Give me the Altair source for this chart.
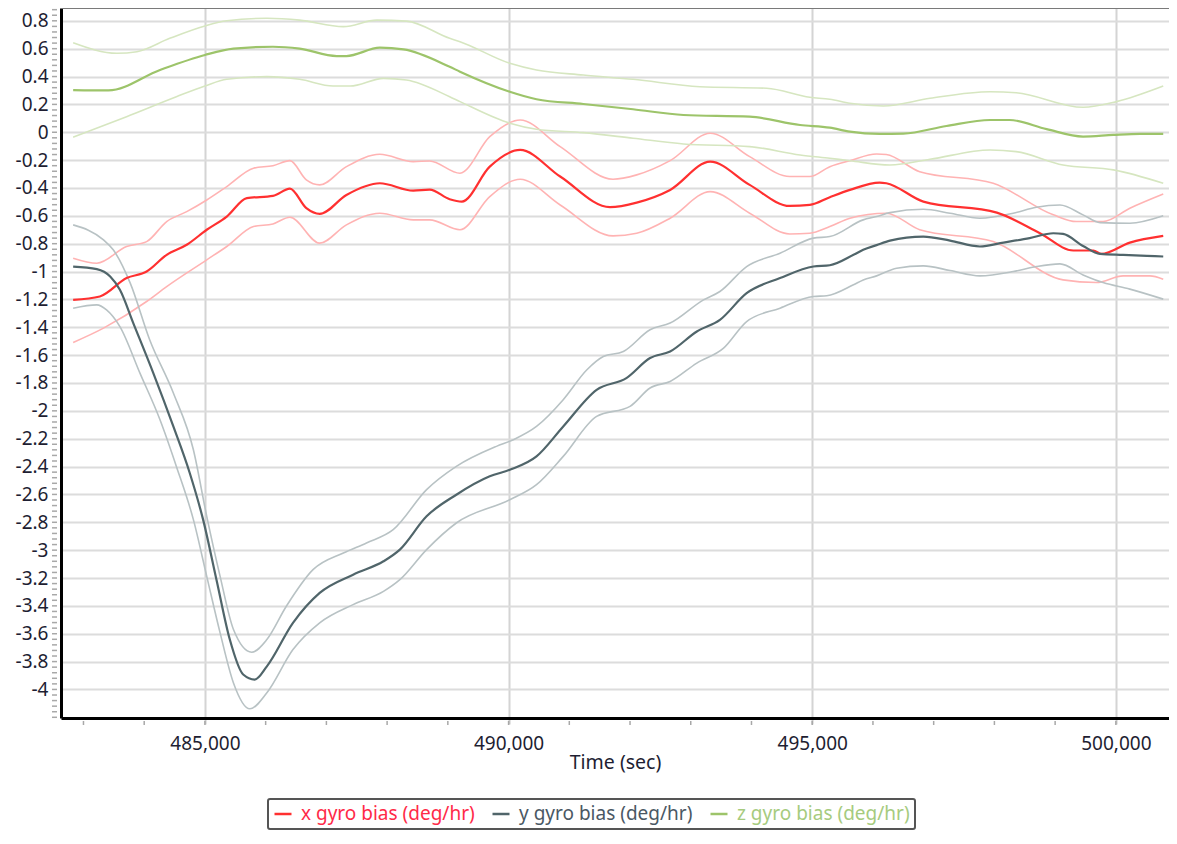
import altair as alt
import pandas as pd

# ---------------- data ----------------
X_MID_T = [482830, 483270, 483710, 484040, 484370, 484700, 485030, 485360, 485690, 486120, 486400, 486670, 486890, 487330, 487880, 488430, 488700, 489030, 489230, 489690, 490190, 490850, 491670, 492110, 492660, 493320, 493970, 494630, 494960, 495290, 495620, 496110, 496220, 496830, 498040, 498750, 499300, 499630, 499760, 500230, 500780]
X_MID_V = [-1.203, -1.179, -1.047, -1.0, -0.88, -0.808, -0.70, -0.605, -0.473, -0.457, -0.405, -0.545, -0.586, -0.45, -0.366, -0.419, -0.412, -0.481, -0.498, -0.247, -0.127, -0.318, -0.538, -0.505, -0.414, -0.211, -0.378, -0.529, -0.522, -0.466, -0.414, -0.361, -0.366, -0.498, -0.577, -0.725, -0.849, -0.849, -0.873, -0.792, -0.744]

X_UP_T = [482830, 483220, 483710, 484040, 484370, 484700, 485030, 485360, 485800, 486120, 486400, 486670, 486890, 487330, 487880, 488430, 488700, 489200, 489690, 490190, 490850, 491720, 492110, 492660, 493320, 493970, 494630, 494960, 495290, 495620, 496060, 496220, 496770, 497980, 498970, 499350, 499790, 500230, 500780]
X_UP_V = [-0.904, -0.94, -0.82, -0.785, -0.641, -0.57, -0.486, -0.39, -0.258, -0.24, -0.204, -0.342, -0.378, -0.247, -0.158, -0.211, -0.206, -0.294, -0.032, 0.088, -0.103, -0.337, -0.306, -0.204, -0.007, -0.175, -0.318, -0.318, -0.247, -0.204, -0.156, -0.16, -0.283, -0.366, -0.593, -0.641, -0.641, -0.545, -0.443]

X_LO_T = [482830, 483330, 484040, 484370, 485030, 485360, 485800, 486120, 486400, 486890, 487330, 487880, 488430, 488700, 489200, 489690, 490190, 490850, 491720, 492110, 492660, 493320, 493970, 494630, 494960, 495290, 495620, 496220, 496770, 497980, 499130, 499680, 500120, 500560, 500780]
X_LO_V = [-1.509, -1.406, -1.215, -1.108, -0.916, -0.82, -0.677, -0.658, -0.61, -0.796, -0.665, -0.581, -0.629, -0.629, -0.70, -0.462, -0.337, -0.522, -0.744, -0.725, -0.617, -0.426, -0.581, -0.73, -0.725, -0.677, -0.617, -0.581, -0.70, -0.785, -1.06, -1.079, -1.031, -1.031, -1.055]

Y_MID_T = [482830, 483220, 483440, 483600, 483820, 484150, 484480, 484750, 484970, 485190, 485410, 485630, 485820, 486020, 486450, 486890, 487440, 487940, 488210, 488650, 489140, 489690, 490020, 490460, 490900, 491450, 491940, 492330, 492660, 493100, 493480, 493920, 494470, 495020, 495290, 495680, 495840, 496060, 496280, 496830, 497270, 497760, 498150, 498580, 498970, 499130, 499460, 499740, 500120, 500510, 500780]
Y_MID_V = [-0.964, -0.983, -1.036, -1.131, -1.37, -1.729, -2.112, -2.446, -2.781, -3.212, -3.642, -3.893, -3.929, -3.834, -3.522, -3.307, -3.176, -3.08, -2.996, -2.757, -2.602, -2.47, -2.423, -2.327, -2.112, -1.849, -1.765, -1.621, -1.574, -1.43, -1.347, -1.155, -1.047, -0.964, -0.955, -0.88, -0.844, -0.81, -0.778, -0.749, -0.778, -0.82, -0.792, -0.76, -0.725, -0.73, -0.816, -0.873, -0.88, -0.887, -0.892]

Y_UP_T = [482830, 483330, 483490, 483770, 484090, 484480, 484810, 485030, 485250, 485470, 485770, 486020, 486340, 486780, 487280, 487660, 488100, 488650, 489140, 489800, 490080, 490460, 490900, 491290, 491560, 491890, 492330, 492660, 493210, 493480, 493920, 494470, 495020, 495290, 495840, 496060, 496280, 496830, 497270, 497760, 498310, 498690, 499080, 499460, 499740, 500230, 500780]
Y_UP_V = [-0.665, -0.773, -0.844, -1.083, -1.49, -1.872, -2.279, -2.757, -3.188, -3.57, -3.733, -3.642, -3.403, -3.14, -3.02, -2.948, -2.853, -2.566, -2.399, -2.255, -2.207, -2.112, -1.92, -1.705, -1.61, -1.574, -1.418, -1.37, -1.203, -1.143, -0.964, -0.868, -0.76, -0.749, -0.629, -0.605, -0.577, -0.553, -0.581, -0.617, -0.581, -0.538, -0.522, -0.593, -0.649, -0.653, -0.60]

Y_LO_T = [482830, 483220, 483380, 483600, 483930, 484260, 484530, 484810, 485030, 485250, 485470, 485740, 486020, 486450, 486890, 487440, 487940, 488210, 488650, 489140, 490020, 490460, 490900, 491450, 492000, 492330, 492660, 493100, 493540, 493920, 494470, 495020, 495240, 495680, 495840, 496060, 496390, 496830, 497270, 497760, 498310, 498690, 499080, 499460, 499790, 500230, 500780]
Y_LO_V = [-1.263, -1.239, -1.275, -1.395, -1.729, -2.064, -2.399, -2.781, -3.188, -3.594, -3.953, -4.139, -4.024, -3.714, -3.522, -3.391, -3.296, -3.212, -2.996, -2.805, -2.638, -2.53, -2.327, -2.04, -1.968, -1.836, -1.789, -1.657, -1.55, -1.359, -1.263, -1.179, -1.174, -1.095, -1.06, -1.031, -0.976, -0.959, -0.993, -1.031, -1.0, -0.964, -0.945, -1.024, -1.079, -1.126, -1.198]

Z_MID_T = [482830, 483410, 484260, 485000, 485470, 486120, 486560, 487170, 487330, 487880, 488270, 489030, 489200, 490020, 490460, 491230, 492050, 492880, 493970, 494800, 495290, 495620, 496110, 496500, 497210, 497930, 498250, 498860, 499460, 499960, 500400, 500780]
Z_MID_V = [0.303, 0.30, 0.447, 0.555, 0.60, 0.614, 0.60, 0.547, 0.547, 0.607, 0.595, 0.47, 0.435, 0.291, 0.237, 0.203, 0.165, 0.124, 0.112, 0.052, 0.033, 0.004, -0.012, -0.01, 0.045, 0.088, 0.088, 0.022, -0.031, -0.019, -0.012, -0.012]

Z_UP_T = [482830, 483550, 483880, 484420, 485000, 485360, 486020, 486560, 487280, 487830, 488320, 489030, 489200, 490020, 490460, 491230, 492050, 493150, 494250, 494960, 495290, 495620, 496170, 496940, 497930, 498360, 499460, 500010, 500780]
Z_UP_V = [0.643, 0.567, 0.578, 0.674, 0.763, 0.80, 0.818, 0.805, 0.758, 0.805, 0.798, 0.674, 0.65, 0.495, 0.447, 0.411, 0.38, 0.327, 0.316, 0.251, 0.237, 0.208, 0.189, 0.244, 0.291, 0.284, 0.179, 0.22, 0.332]

Z_LO_T = [482830, 483710, 484530, 485000, 485360, 486020, 486560, 487110, 487390, 487940, 488320, 489030, 489200, 490020, 490460, 491230, 492050, 492880, 493970, 494800, 495290, 495620, 496280, 496940, 497930, 498360, 499130, 499960, 500780]
Z_LO_V = [-0.036, 0.112, 0.255, 0.332, 0.38, 0.399, 0.38, 0.332, 0.332, 0.387, 0.375, 0.255, 0.22, 0.065, 0.022, -0.003, -0.043, -0.084, -0.103, -0.163, -0.187, -0.204, -0.235, -0.194, -0.127, -0.139, -0.235, -0.27, -0.366]

NAMES = ["x gyro bias (deg/hr)", "y gyro bias (deg/hr)", "z gyro bias (deg/hr)"]
GROUPS = ["x", "y", "z"]
MAIN_COLORS = ["#ff3030", "#50656a", "#9dc46a"]
BAND_COLORS = ["#ffb3b3", "#b8c2c4", "#d6e6c0"]
LABEL_COLORS = ["#ff2a48", "#4a5864", "#a6cb7e"]

X_MAJOR = [485000, 490000, 495000, 500000]
X_MINOR = [483000, 484000, 485000, 486000, 487000, 488000, 489000, 490000, 491000, 492000,
           493000, 494000, 495000, 496000, 497000, 498000, 499000, 500000]
Y_MAJOR = [round(-4.0 + 0.2 * i, 1) for i in range(25)]
Y_MINOR = [round(-4.2 + 0.04 * i, 2) for i in range(128)]

X_DOMAIN = [482630, 500875]
Y_DOMAIN = [-4.205, 0.892]

W, H = 1108, 710
FONT = "Noto Sans"

# ---------------- frames ----------------
def frame(series, group, ts, vs):
    return pd.DataFrame({"t": ts, "v": vs, "series": series, "group": group})

main_df = pd.concat([
    frame(NAMES[0], "x", X_MID_T, X_MID_V),
    frame(NAMES[1], "y", Y_MID_T, Y_MID_V),
    frame(NAMES[2], "z", Z_MID_T, Z_MID_V),
], ignore_index=True)

band_df = pd.concat([
    frame("x upper", "x", X_UP_T, X_UP_V),
    frame("x lower", "x", X_LO_T, X_LO_V),
    frame("y upper", "y", Y_UP_T, Y_UP_V),
    frame("y lower", "y", Y_LO_T, Y_LO_V),
    frame("z upper", "z", Z_UP_T, Z_UP_V),
    frame("z lower", "z", Z_LO_T, Z_LO_V),
], ignore_index=True)

# ---------------- encodings ----------------
x_axis = alt.Axis(
    values=X_MAJOR, title="Time (sec)",
    labelExpr="format(datum.value, ',.0f')",
    grid=True, gridColor="#d4d4d4", gridWidth=2,
    domainColor="#000000", domainWidth=3,
    ticks=True, tickColor="#c8c8c8", tickWidth=2, tickSize=6,
    labelFont=FONT, labelFontSize=19, labelColor="#1e1e32", labelPadding=10,
    titleFont=FONT, titleFontSize=19.5, titleFontWeight="normal", titleColor="#1e1e32",
    titlePadding=0, labelFlush=False,
)
y_axis = alt.Axis(
    values=Y_MAJOR, title=None,
    labelExpr="datum.value == 0 ? '0' : toString(round(datum.value * 10) / 10)",
    grid=True, gridColor="#dcdcdc", gridWidth=2,
    domainColor="#000000", domainWidth=3,
    ticks=False, tickSize=0,
    labelFont=FONT, labelFontSize=19, labelColor="#1e1e32", labelPadding=13,
    labelFlush=False,
)

X_ENC = alt.X("t:Q", scale=alt.Scale(domain=X_DOMAIN, nice=False, zero=False), axis=x_axis)
Y_ENC = alt.Y("v:Q", scale=alt.Scale(domain=Y_DOMAIN, nice=False, zero=False), axis=y_axis)

label_expr = ("datum.label == '%s' ? '%s' : (datum.label == '%s' ? '%s' : '%s')"
              % (NAMES[0], LABEL_COLORS[0], NAMES[1], LABEL_COLORS[1], LABEL_COLORS[2]))

bands = alt.Chart(band_df).mark_line(strokeWidth=1.6, interpolate="monotone").encode(
    x=X_ENC, y=Y_ENC,
    color=alt.Color("group:N", scale=alt.Scale(domain=GROUPS, range=BAND_COLORS), legend=None),
    detail="series:N",
)

mains = alt.Chart(main_df).mark_line(strokeWidth=2.2, interpolate="monotone").encode(
    x=X_ENC, y=Y_ENC,
    color=alt.Color(
        "series:N",
        scale=alt.Scale(domain=NAMES, range=MAIN_COLORS),
        legend=alt.Legend(
            title=None, orient="none", legendX=207, legendY=791, direction="horizontal",
            symbolType="stroke", symbolSize=289, symbolStrokeWidth=2.5,
            labelFont=FONT, labelFontSize=19, labelColor={"expr": label_expr},
            labelLimit=400, labelOffset=8, columnPadding=12, padding=5,
            strokeColor="#555555", cornerRadius=2,
        ),
    ),
)

ytick_df = pd.DataFrame({"v": Y_MINOR})
yticks = alt.Chart(ytick_df).mark_rule(color="#a8a8a8", strokeWidth=1.5).encode(
    y=Y_ENC, x=alt.value(-9), x2=alt.value(-4),
)

xtick_df = pd.DataFrame({"t": X_MINOR})
xticks = alt.Chart(xtick_df).mark_rule(color="#a8a8a8", strokeWidth=1.5).encode(
    x=X_ENC, y=alt.value(H + 3), y2=alt.value(H + 7),
)

top_border = alt.Chart(pd.DataFrame({"a": [0]})).mark_rule(color="#7a7a7a", strokeWidth=2).encode(
    x=alt.value(0), x2=alt.value(W + 6), y=alt.value(0),
)

chart = alt.layer(bands, mains, yticks, xticks, top_border).resolve_scale(
    color="independent"
).properties(
    width=W, height=H,
    autosize=alt.AutoSizeParams(type="none"),
    padding={"left": 53, "top": 0, "right": 0, "bottom": 117},
    background="#ffffff",
).configure_view(stroke=None).configure_legend(strokeWidth=2)

chart.save("out.html", embed_options={"renderer": "svg", "actions": False})
